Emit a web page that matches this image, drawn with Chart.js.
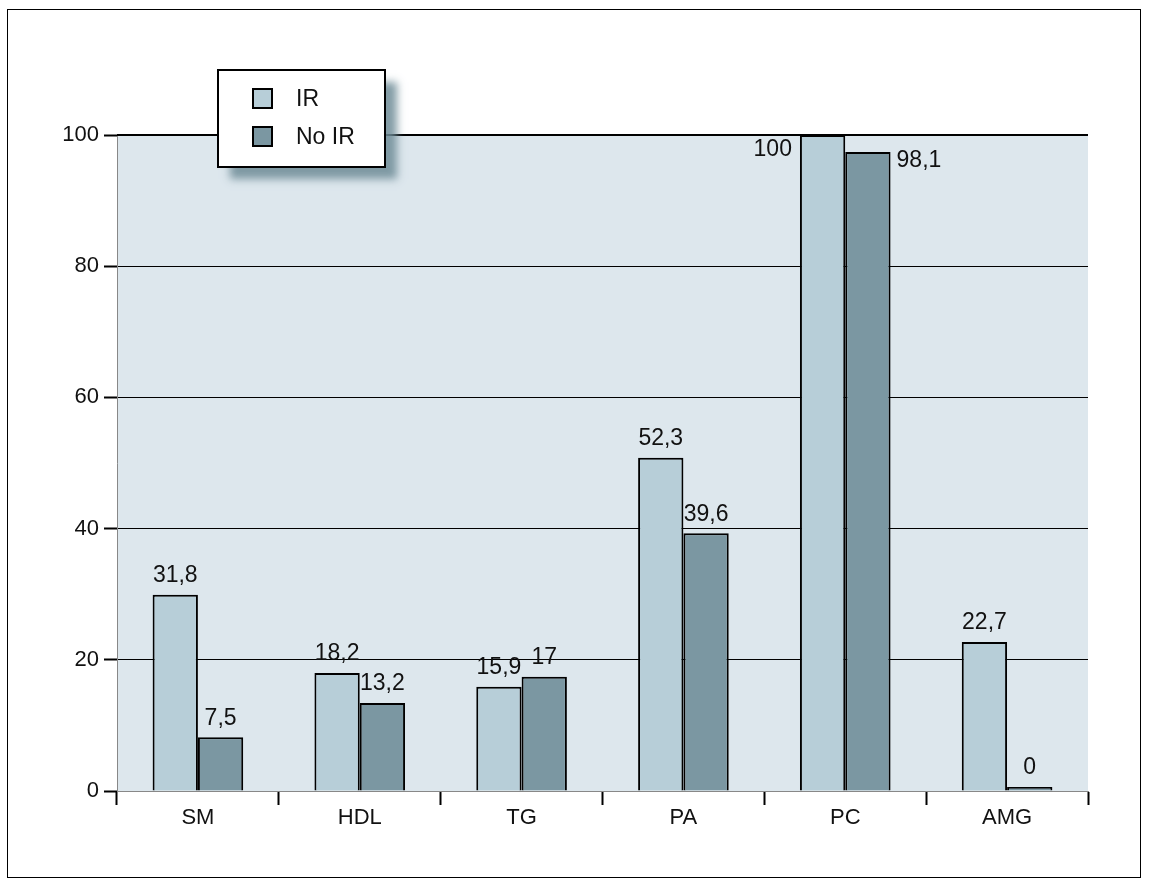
<!DOCTYPE html>
<html>
<head>
<meta charset="utf-8">
<script src="https://cdn.jsdelivr.net/npm/chart.js@4"></script>
<style>
  html, body { margin: 0; padding: 0; background: #fff; }
  #wrap { width: 1149px; height: 890px; position: relative; }
</style>
</head>
<body>
<div id="wrap"><canvas id="grafico" width="1149" height="890"></canvas></div>
<script>
// categorias e valores (altura das barras, rotulos = texto impresso)
const categorias = ['SM', 'HDL', 'TG', 'PA', 'PC', 'AMG'];
const series = ['IR', 'No IR'];
const valoresIR = [29.9, 18.0, 15.9, 50.8, 100, 22.7];
const valoresNoIR = [8.2, 13.4, 17.4, 39.3, 97.4, 0.6];
const rotulosIR = ['31,8', '18,2', '15,9', '52,3', '100', '22,7'];
const rotulosNoIR = ['7,5', '13,2', '17', '39,6', '98,1', '0'];
const ticksY = [0, 20, 40, 60, 80, 100];

const corIR = '#b7ced8';
const corNoIR = '#7b97a2';
const fonte = 'Liberation Sans, Arial, sans-serif';

// fundo, borda externa, borda de cima e legenda com sombra
const desenhoExtra = {
    id: 'desenhoExtra',
    beforeDraw(chart) {
        const ctx = chart.ctx;
        const a = chart.chartArea;
        ctx.save();
        ctx.fillStyle = '#fff';
        ctx.fillRect(0, 0, chart.width, chart.height);
        ctx.fillStyle = '#dde7ed';
        ctx.fillRect(a.left, a.top, a.right - a.left, a.bottom - a.top);
        ctx.strokeStyle = '#000';
        ctx.lineWidth = 1;
        ctx.strokeRect(7.5, 9.5, 1133, 868);
        ctx.restore();
    },
    afterDatasetsDraw(chart) {
        const ctx = chart.ctx;
        const a = chart.chartArea;
        ctx.save();
        // rotulos das barras
        ctx.font = '23px ' + fonte;
        ctx.fillStyle = '#111';
        ctx.textBaseline = 'middle';
        const rotulos = [rotulosIR, rotulosNoIR];
        chart.data.datasets.forEach((ds, i) => {
            chart.getDatasetMeta(i).data.forEach((bar, j) => {
                const txt = rotulos[i][j];
                if (ds.data[j] >= 97) {
                    // barra encosta no topo: rotulo ao lado
                    if (i === 0) {
                        ctx.textAlign = 'right';
                        ctx.fillText(txt, bar.x - bar.width / 2 - 8, a.top + 15);
                    } else {
                        ctx.textAlign = 'left';
                        ctx.fillText(txt, bar.x + bar.width / 2 + 6, bar.y + 9);
                    }
                } else {
                    ctx.textAlign = 'center';
                    ctx.fillText(txt, bar.x, bar.y - 19);
                }
            });
        });
        // linha de cima do grafico
        ctx.strokeStyle = '#000';
        ctx.lineWidth = 2;
        ctx.beginPath();
        ctx.moveTo(a.left, a.top);
        ctx.lineTo(a.right, a.top);
        ctx.stroke();

        // legenda
        const lx = 218, ly = 70, lw = 167, lh = 97;
        ctx.shadowColor = 'rgba(110,140,150,0.85)';
        ctx.shadowBlur = 8;
        ctx.shadowOffsetX = 12;
        ctx.shadowOffsetY = 12;
        ctx.fillStyle = '#fff';
        ctx.fillRect(lx, ly, lw, lh);
        ctx.shadowColor = 'transparent';
        ctx.lineWidth = 2;
        ctx.strokeRect(lx, ly, lw, lh);
        const cores = [corIR, corNoIR];
        series.forEach((s, i) => {
            const y = ly + 19 + i * 38;
            ctx.fillStyle = cores[i];
            ctx.fillRect(253, y, 19, 19);
            ctx.strokeRect(253, y, 19, 19);
            ctx.fillStyle = '#111';
            ctx.textAlign = 'left';
            ctx.fillText(s, 296, y + 11);
        });
        ctx.restore();
    }
};

const grafico = new Chart(document.getElementById('grafico'), {
    type: 'bar',
    data: {
        labels: categorias,
        datasets: [{
            label: series[0],
            data: valoresIR,
            backgroundColor: corIR,
            borderColor: '#000',
            borderWidth: 2
        }, {
            label: series[1],
            data: valoresNoIR,
            backgroundColor: corNoIR,
            borderColor: '#000',
            borderWidth: 2
        }]
    },
    options: {
        responsive: false,
        animation: false,
        layout: { padding: { top: 135, right: 61, left: 0, bottom: 0 } },
        datasets: { bar: { barPercentage: 1, categoryPercentage: 0.56 } },
        scales: {
            x: {
                grid: {
                    offset: true,
                    drawOnChartArea: false,
                    tickLength: 14,
                    tickColor: '#000',
                    tickWidth: 2
                },
                border: { color: '#888', width: 1 },
                ticks: { color: '#111', padding: 0, font: { size: 22, family: fonte } },
                afterFit(s) { s.height = 99; }
            },
            y: {
                min: 0,
                max: 100,
                afterBuildTicks(s) { s.ticks = ticksY.map(v => ({ value: v })); },
                grid: {
                    color: c => (c.tick && (c.tick.value === 0 || c.tick.value === 100)) ? 'rgba(0,0,0,0)' : '#000',
                    lineWidth: 1,
                    tickLength: 13,
                    tickColor: '#000',
                    tickWidth: 2
                },
                border: { color: '#888', width: 1 },
                ticks: { color: '#111', padding: 5, font: { size: 22, family: fonte } },
                afterFit(s) { s.width = 117; }
            }
        },
        plugins: {
            legend: { display: false },
            tooltip: { enabled: false }
        }
    },
    plugins: [desenhoExtra]
});
</script>
</body>
</html>
